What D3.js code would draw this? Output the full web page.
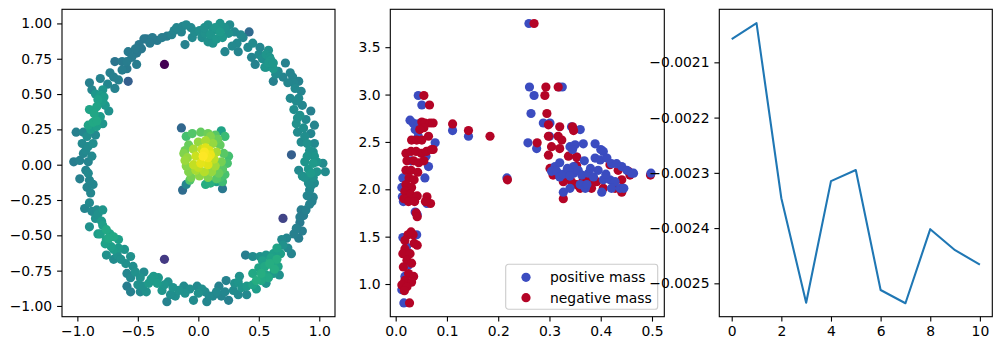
<!DOCTYPE html>
<html>
<head>
<meta charset="utf-8">
<script src="https://cdn.jsdelivr.net/npm/d3@7"></script>
<style>
  body { margin: 0; background: #fff; }
  svg text { font-family: "DejaVu Sans", sans-serif; font-size: 13.9px; fill: #000; }
  .tick line { stroke: #000; stroke-width: 1.1; }
  .frame { fill: none; stroke: #000; stroke-width: 1.1; }
</style>
</head>
<body>
<svg id="fig" width="1002" height="351"></svg>
<script>
// ---------- panel 1: ring + core, coloured with viridis by value c ----------
// [x, y, c]
const ringPoints = [
  [-0.10,0.99,0.47],[-0.18,0.97,0.46],[-0.14,0.94,0.45],[-0.26,0.91,0.42],[-0.34,0.88,0.41],
  [-0.43,0.89,0.39],[-0.45,0.89,0.40],[-0.11,0.85,0.44],[-0.03,0.94,0.48],[0.01,0.95,0.49],
  [0.08,0.99,0.50],[0.055,0.93,0.50],[0.12,0.95,0.52],[0.18,1.00,0.52],[0.18,0.94,0.54],
  [0.26,0.99,0.48],[0.30,0.94,0.47],[0.15,0.89,0.53],[0.08,0.87,0.50],[0.12,0.86,0.51],
  [0.22,0.80,0.46],[0.32,0.86,0.47],[0.33,0.80,0.45],[0.42,0.94,0.34],[0.41,0.83,0.47],
  [0.45,0.86,0.48],[0.51,0.83,0.46],[0.44,0.76,0.45],[0.47,0.71,0.44],[0.58,0.81,0.50],
  [0.56,0.78,0.52],[0.60,0.74,0.53],[0.56,0.69,0.52],[0.62,0.68,0.53],[0.55,0.69,0.50],
  [0.62,0.59,0.43],[0.72,0.72,0.44],[0.76,0.65,0.45],[0.83,0.59,0.44],[0.79,0.58,0.46],
  [0.80,0.54,0.47],[0.85,0.52,0.45],[0.76,0.47,0.47],[0.81,0.45,0.48],[0.79,0.39,0.49],
  [0.84,0.35,0.50],[0.93,0.38,0.43],[0.81,0.29,0.50],[0.87,0.26,0.49],[0.96,0.28,0.45],
  [0.82,0.23,0.48],[0.93,0.22,0.46],[0.85,0.16,0.48],[0.90,0.15,0.50],[0.96,0.15,0.47],
  [0.95,0.09,0.50],[0.96,0.06,0.52],[0.88,0.02,0.52],[0.95,0.01,0.54],[1.03,0.01,0.48],
  [0.83,-0.04,0.47],[0.91,-0.03,0.53],[0.98,-0.05,0.52],[1.05,-0.05,0.48],[0.88,-0.09,0.51],
  [0.95,-0.09,0.50],[0.91,-0.13,0.49],[0.96,-0.13,0.48],[0.92,-0.18,0.46],[0.95,-0.23,0.44],
  [0.94,-0.26,0.43],[0.85,-0.32,0.42],[0.89,-0.32,0.43],[0.84,-0.37,0.42],[0.84,-0.41,0.41],
  [0.79,-0.49,0.43],[0.83,-0.52,0.42],[0.73,-0.52,0.46],[0.69,-0.53,0.47],[0.70,-0.57,0.50],
  [0.65,-0.59,0.58],[0.62,-0.63,0.56],[0.77,-0.63,0.45],[0.56,-0.64,0.52],[0.51,-0.65,0.50],
  [0.45,-0.65,0.48],[0.39,-0.64,0.42],[0.65,-0.67,0.62],[0.59,-0.70,0.62],[0.66,-0.72,0.58],
  [0.62,-0.77,0.54],[0.67,-0.78,0.50],[0.56,-0.78,0.58],[0.52,-0.77,0.62],[0.45,-0.77,0.60],
  [0.48,-0.82,0.62],[0.45,-0.85,0.58],[0.40,-0.86,0.54],[0.56,-0.84,0.52],[0.34,-0.79,0.50],
  [0.33,-0.83,0.52],[0.29,-0.89,0.48],[0.23,-0.82,0.44],[0.40,-0.92,0.47],[0.25,-0.96,0.43],
  [0.19,-0.93,0.45],[0.12,-0.93,0.46],[0.17,-0.86,0.44],[0.055,-0.90,0.48],[0.07,-0.97,0.46],
  [-0.01,-0.86,0.47],[0.00,-0.91,0.50],[-0.04,-0.96,0.48],[-0.11,-0.91,0.50],[-0.12,-0.86,0.48],
  [-0.21,-0.87,0.51],[-0.19,-0.93,0.49],[-0.26,-0.97,0.44],[-0.25,-0.83,0.50],[-0.30,-0.89,0.52],
  [-0.37,-0.79,0.54],[-0.34,-0.84,0.55],[-0.41,-0.84,0.54],[-0.43,-0.90,0.50],[-0.48,-0.90,0.47],
  [-0.50,-0.85,0.50],[-0.45,-0.76,0.48],[-0.52,-0.76,0.50],[-0.59,-0.77,0.46],[-0.54,-0.72,0.49],
  [-0.59,-0.86,0.42],[-0.56,-0.90,0.43],[-0.56,-0.65,0.50],[-0.61,-0.60,0.52],[-0.66,-0.59,0.54],
  [-0.66,-0.53,0.56],[-0.70,-0.51,0.60],[-0.76,-0.46,0.60],[-0.79,-0.43,0.56],[-0.76,-0.53,0.58],
  [-0.72,-0.58,0.56],[-0.76,-0.64,0.50],[-0.70,-0.67,0.48],[-0.67,-0.64,0.50],[-0.90,-0.44,0.50],
  [-0.83,-0.49,0.55],[-0.81,-0.49,0.57],[-0.79,-0.32,0.52],[-0.84,-0.32,0.48],[-0.90,-0.27,0.47],
  [-0.94,-0.31,0.45],[-0.85,-0.38,0.50],[-0.92,-0.16,0.45],[-0.87,-0.14,0.46],[-0.91,-0.06,0.47],
  [-0.90,-0.11,0.46],[-0.98,-0.10,0.43],[-0.98,0.03,0.44],[-1.03,0.02,0.42],[-0.91,0.02,0.45],
  [-0.95,0.08,0.46],[-0.91,0.13,0.48],[-0.96,0.15,0.47],[-0.87,0.15,0.49],[-0.85,0.21,0.47],
  [-0.92,0.20,0.49],[-1.01,0.23,0.43],[-0.95,0.23,0.46],[-0.91,0.28,0.58],[-0.87,0.30,0.60],
  [-0.79,0.29,0.52],[-0.81,0.34,0.55],[-0.90,0.39,0.58],[-0.84,0.41,0.58],[-0.83,0.46,0.57],
  [-0.79,0.45,0.55],[-0.74,0.38,0.50],[-0.81,0.49,0.55],[-0.79,0.53,0.52],[-0.88,0.53,0.46],
  [-0.90,0.58,0.43],[-0.81,0.61,0.44],[-0.73,0.65,0.43],[-0.69,0.54,0.44],[-0.66,0.60,0.43],
  [-0.69,0.73,0.39],[-0.63,0.73,0.41],[-0.59,0.73,0.42],[-0.59,0.68,0.41],[-0.51,0.71,0.42],
  [-0.58,0.80,0.41],[-0.52,0.82,0.41],[-0.47,0.82,0.40],[-0.51,0.79,0.40],[-0.22,0.92,0.44],
  [-0.30,0.90,0.42],[-0.06,0.97,0.47],[0.22,0.97,0.51],[0.37,0.90,0.46],[0.64,0.64,0.48],
  // second pass, filling the band
  [-0.38,0.90,0.41],[-0.05,0.90,0.47],[0.03,0.90,0.49],[0.10,0.92,0.52],[0.20,0.90,0.53],
  [0.25,0.93,0.50],[0.35,0.92,0.47],[0.28,0.84,0.47],[0.14,0.97,0.53],[0.05,0.97,0.50],
  [0.50,0.78,0.47],[0.53,0.75,0.49],[0.58,0.72,0.53],[0.62,0.72,0.53],[0.59,0.76,0.52],
  [0.66,0.66,0.47],[0.70,0.62,0.45],[0.74,0.58,0.46],[0.78,0.62,0.45],[0.83,0.47,0.47],
  [0.86,0.42,0.46],[0.82,0.33,0.50],[0.89,0.32,0.47],[0.88,0.20,0.49],[0.92,0.10,0.51],
  [0.90,0.06,0.52],[0.98,0.02,0.52],[0.93,-0.06,0.54],[0.86,-0.08,0.50],[0.93,-0.15,0.48],
  [0.90,-0.22,0.45],[0.92,-0.28,0.44],[0.87,-0.36,0.42],[0.81,-0.45,0.43],[0.86,-0.47,0.42],
  [0.74,-0.59,0.47],[0.68,-0.63,0.56],[0.60,-0.66,0.58],[0.55,-0.72,0.60],[0.50,-0.73,0.58],
  [0.62,-0.72,0.60],[0.58,-0.80,0.60],[0.52,-0.82,0.60],[0.48,-0.88,0.55],[0.36,-0.87,0.52],
  [0.30,-0.84,0.50],[0.33,-0.92,0.47],[0.22,-0.90,0.46],[0.15,-0.90,0.47],[0.09,-0.93,0.47],
  [0.03,-0.88,0.49],[-0.07,-0.88,0.49],[-0.16,-0.89,0.50],[-0.23,-0.92,0.49],[-0.28,-0.85,0.52],
  [-0.33,-0.80,0.53],[-0.39,-0.81,0.54],[-0.46,-0.86,0.50],[-0.48,-0.80,0.50],[-0.56,-0.80,0.47],
  [-0.60,-0.70,0.50],[-0.64,-0.67,0.50],[-0.70,-0.60,0.55],[-0.73,-0.49,0.58],[-0.77,-0.56,0.57],
  [-0.80,-0.40,0.54],[-0.83,-0.35,0.50],[-0.88,-0.33,0.47],[-0.89,-0.20,0.46],[-0.93,-0.04,0.45],
  [-0.88,0.06,0.47],[-0.93,0.10,0.47],[-0.89,0.25,0.55],[-0.84,0.27,0.56],[-0.86,0.36,0.59],
  [-0.77,0.42,0.53],[-0.78,0.48,0.55],[-0.85,0.50,0.53],[-0.75,0.57,0.46],[-0.70,0.62,0.43],
  [-0.63,0.67,0.42],[-0.55,0.76,0.41],[-0.49,0.85,0.40],[-0.40,0.86,0.41],[-0.20,0.95,0.45],
  [-0.13,0.98,0.46],[0.63,-0.74,0.62],[0.53,-0.68,0.56],[-0.74,-0.52,0.60],[-0.84,0.31,0.60]
];
const strayPoints = [
  [-0.28,0.71,0.00],[-0.28,-0.67,0.17],[0.70,-0.38,0.20],[0.77,0.07,0.30],[-0.58,0.59,0.30],
  [-0.14,0.26,0.33],[-0.13,-0.18,0.35],[0.20,-0.17,0.40],[-0.10,-0.14,0.46],[0.06,-0.14,0.62],
  [0.10,-0.13,0.63],[0.15,-0.12,0.58]
];
const corePoints = [
  [-0.10,0.20,0.70],[-0.05,0.22,0.73],[0.02,0.23,0.76],[0.08,0.22,0.78],[0.14,0.21,0.74],
  [0.19,0.24,0.58],[0.22,0.20,0.68],[-0.08,0.14,0.77],[0.00,0.16,0.84],[0.06,0.17,0.87],
  [0.12,0.15,0.84],[0.18,0.14,0.76],[-0.11,0.10,0.78],[-0.04,0.11,0.87],[0.03,0.11,0.92],
  [0.09,0.10,0.95],[0.15,0.09,0.87],[0.21,0.08,0.74],[0.25,0.06,0.70],[-0.09,0.05,0.84],
  [-0.02,0.06,0.92],[0.04,0.06,1.00],[0.08,0.05,0.98],[0.13,0.04,0.90],[0.19,0.02,0.79],
  [0.24,0.01,0.71],[-0.10,-0.01,0.82],[-0.04,0.00,0.91],[0.02,0.01,0.96],[0.08,0.00,0.95],
  [0.14,-0.01,0.86],[0.20,-0.03,0.74],[-0.08,-0.05,0.81],[-0.02,-0.04,0.87],[0.05,-0.05,0.89],
  [0.11,-0.05,0.84],[0.17,-0.06,0.77],[0.22,-0.07,0.71],[-0.06,-0.09,0.79],[0.01,-0.08,0.83],
  [0.08,-0.09,0.81],[0.15,-0.10,0.74],[0.20,-0.12,0.69],[-0.11,0.03,0.85],[-0.12,0.08,0.81],
  [0.10,0.20,0.81],[0.16,0.18,0.77],[0.00,-0.02,0.90],[0.06,0.12,0.95],[-0.07,-0.11,0.73],
  [0.18,-0.09,0.71],[0.05,0.09,0.99],[0.10,0.07,0.97]
];
const p1XTicks = [-1.0, -0.5, 0.0, 0.5, 1.0];
const p1YTicks = [-1.00, -0.75, -0.50, -0.25, 0.00, 0.25, 0.50, 0.75, 1.00];

// ---------- panel 2: positive / negative mass ----------
const positiveMass = [
  [0.260,3.75],[0.261,3.08],[0.270,2.99],[0.319,3.08],[0.325,3.08],[0.264,2.80],[0.288,2.70],
  [0.301,2.70],[0.258,2.49],[0.275,2.43],[0.300,2.56],[0.343,2.66],[0.360,2.63],[0.340,2.45],
  [0.350,2.47],[0.366,2.48],[0.389,2.48],[0.400,2.42],[0.405,2.40],[0.353,2.34],
  [0.044,2.99],[0.051,2.89],[0.034,2.70],[0.044,2.69],[0.038,2.63],[0.044,2.56],[0.077,2.49],
  [0.059,2.35],[0.064,2.24],[0.057,2.12],[0.014,2.12],[0.015,1.87],[0.025,1.92],[0.061,1.85],
  [0.038,1.76],[0.042,1.73],[0.041,1.52],[0.014,1.49],[0.025,1.20],[0.018,1.08],[0.012,0.94],
  [0.014,0.99],[0.016,0.80],[0.021,1.39],[0.030,2.30],[0.012,2.02],[0.013,1.92],[0.028,2.73],
  [0.111,2.62],[0.142,2.56],[0.217,2.12]
];
const negativeMass = [
  [0.270,3.75],[0.291,2.99],[0.293,3.08],[0.317,3.08],[0.295,2.80],[0.298,2.68],[0.276,2.49],
  [0.320,2.66],[0.298,2.56],[0.298,2.36],[0.304,2.45],[0.317,2.56],[0.324,2.52],[0.320,2.43],
  [0.345,2.66],[0.347,2.62],[0.337,2.35],[0.353,2.34],[0.301,2.22],[0.307,2.15],[0.327,2.10],
  [0.337,2.12],[0.353,2.25],[0.366,2.10],[0.373,2.10],[0.379,2.08],[0.392,2.08],[0.356,2.04],
  [0.418,2.26],[0.434,2.20],[0.454,2.19],[0.441,2.10],[0.457,2.15],[0.405,2.01],[0.428,2.01],
  [0.441,1.97],[0.382,2.01],[0.360,2.01],[0.353,2.05],[0.343,2.08],[0.327,2.08],[0.327,1.90],
  [0.497,2.15],[0.218,2.10],[0.111,2.69],[0.142,2.62],[0.184,2.56],[0.055,2.99],[0.066,2.89],
  [0.051,2.71],[0.057,2.70],[0.067,2.70],[0.073,2.70],[0.055,2.65],[0.047,2.63],[0.064,2.56],
  [0.031,2.52],[0.041,2.52],[0.051,2.52],[0.073,2.42],[0.020,2.38],[0.030,2.40],[0.040,2.40],
  [0.050,2.38],[0.060,2.40],[0.070,2.42],[0.022,2.30],[0.035,2.30],[0.045,2.28],[0.055,2.30],
  [0.020,2.20],[0.030,2.20],[0.043,2.18],[0.026,2.12],[0.036,2.10],[0.020,2.05],[0.031,2.02],
  [0.018,1.98],[0.029,1.95],[0.042,1.93],[0.016,1.90],[0.025,1.87],[0.037,1.87],[0.061,1.92],
  [0.068,1.85],[0.058,1.87],[0.040,1.75],[0.042,1.71],[0.034,1.52],[0.024,1.52],[0.018,1.46],
  [0.042,1.41],[0.018,1.37],[0.014,1.32],[0.028,1.32],[0.022,1.25],[0.031,1.22],[0.015,1.18],
  [0.025,1.11],[0.035,1.08],[0.018,1.04],[0.031,1.02],[0.012,0.99],[0.022,0.97],[0.017,0.93],
  [0.027,0.80],[0.030,1.55],[0.036,1.43]
];
// positive points plotted after the negative ones (main right-hand cluster)
const positiveMassLate = [
  [0.311,2.24],[0.304,2.19],[0.314,2.19],[0.320,2.13],[0.327,2.16],[0.347,2.24],[0.347,2.17],
  [0.356,2.20],[0.363,2.15],[0.376,2.17],[0.386,2.13],[0.389,2.33],[0.399,2.31],[0.412,2.33],
  [0.421,2.27],[0.431,2.27],[0.441,2.24],[0.451,2.20],[0.460,2.17],[0.464,2.17],[0.405,2.10],
  [0.418,2.10],[0.428,2.08],[0.438,2.01],[0.421,2.01],[0.402,1.97],[0.360,2.05],[0.370,2.01],
  [0.373,2.05],[0.340,2.01],[0.327,1.97],[0.320,2.28],[0.335,2.22],[0.380,2.22],[0.368,2.30],
  [0.410,2.16],[0.395,2.20],[0.445,2.01],[0.340,2.14],[0.498,2.17],[0.345,2.42]
];
const p2XTicks = [0.0, 0.1, 0.2, 0.3, 0.4, 0.5];
const p2YTicks = [1.0, 1.5, 2.0, 2.5, 3.0, 3.5];
const legendLabels = ["positive mass", "negative mass"];

// ---------- panel 3: line ----------
const lineSteps = [0, 1, 2, 3, 4, 5, 6, 7, 8, 9, 10];
const lineValues = [-0.002058, -0.002029, -0.002346, -0.002535, -0.002315, -0.002295,
                    -0.002512, -0.002536, -0.002402, -0.002440, -0.002466];
const p3XTicks = [0, 2, 4, 6, 8, 10];
const p3YTicks = [-0.0021, -0.0022, -0.0023, -0.0024, -0.0025];

const svg = d3.select("#fig");
const plotTop = 9.3, plotBottom = 316.7;
const tick = 4.9;
const r = 4.6;

function makePanel(left, right, xDom, yDom, xTicks, yTicks, xFmt, yFmt) {
  const x = d3.scaleLinear().domain(xDom).range([left, right]);
  const y = d3.scaleLinear().domain(yDom).range([plotBottom, plotTop]);
  const g = svg.append("g");
  const plot = g.append("g");
  g.append("g")
    .attr("transform", "translate(0," + plotBottom + ")")
    .call(d3.axisBottom(x).tickValues(xTicks).tickFormat(d3.format(xFmt))
      .tickSizeInner(tick).tickSizeOuter(0).tickPadding(tick))
    .call(a => a.select(".domain").remove());
  g.append("g")
    .attr("transform", "translate(" + left + ",0)")
    .call(d3.axisLeft(y).tickValues(yTicks).tickFormat(d3.format(yFmt))
      .tickSizeInner(tick).tickSizeOuter(0).tickPadding(tick))
    .call(a => a.select(".domain").remove());
  g.selectAll("g[font-family]").attr("font-family", null).attr("font-size", null);
  g.append("rect").attr("class", "frame")
    .attr("x", left).attr("y", plotTop).attr("width", right - left).attr("height", plotBottom - plotTop);
  return { x, y, plot };
}

// panel 1
const p1 = makePanel(62, 335, [-1.127, 1.13], [-1.076, 1.10], p1XTicks, p1YTicks, ".1f", ".2f");
const p1Points = ringPoints.concat(strayPoints, corePoints).sort((a, b) => a[2] - b[2]);
p1.plot.selectAll("circle")
  .data(p1Points)
  .enter()
  .append("circle")
  .attr("cx", d => p1.x(d[0]))
  .attr("cy", d => p1.y(d[1]))
  .attr("r", r)
  .attr("fill", d => d3.interpolateViridis(d[2]));

// panel 2
const p2 = makePanel(390.3, 664.3, [-0.0105, 0.524], [0.655, 3.90], p2XTicks, p2YTicks, ".1f", ".1f");
const massColors = ["#3b4cc0", "#b40426"];
[[positiveMass, 0], [negativeMass, 1], [positiveMassLate, 0]].forEach(([set, i]) => {
  p2.plot.append("g").selectAll("circle")
    .data(set)
    .enter()
    .append("circle")
    .attr("cx", d => p2.x(d[0]))
    .attr("cy", d => p2.y(d[1]))
    .attr("r", r)
    .attr("fill", massColors[i]);
});

const legend = svg.append("g").attr("transform", "translate(" + (664.3 - 158.6) + "," + (plotBottom - 52.4) + ")");
legend.append("rect")
  .attr("width", 152).attr("height", 45).attr("rx", 2.8)
  .attr("fill", "#fff").attr("fill-opacity", 0.8)
  .attr("stroke", "#cccccc").attr("stroke-width", 1.1);
legendLabels.forEach((label, i) => {
  const ly = 13 + i * 20.4;
  legend.append("circle").attr("cx", 20.3).attr("cy", ly).attr("r", r).attr("fill", massColors[i]);
  legend.append("text").attr("x", 44.3).attr("y", ly).attr("dy", "0.35em").text(label);
});

// panel 3
const p3 = makePanel(719.3, 992.3, [-0.5, 10.5], [-0.0025604, -0.002004], p3XTicks, p3YTicks, "d", ".4f");
const line = d3.line()
  .x((d, i) => p3.x(lineSteps[i]))
  .y(d => p3.y(d));
p3.plot.append("path")
  .datum(lineValues)
  .attr("d", line)
  .attr("fill", "none")
  .attr("stroke", "#1f77b4")
  .attr("stroke-width", 2.08)
  .attr("stroke-linejoin", "round");
</script>
</body>
</html>
